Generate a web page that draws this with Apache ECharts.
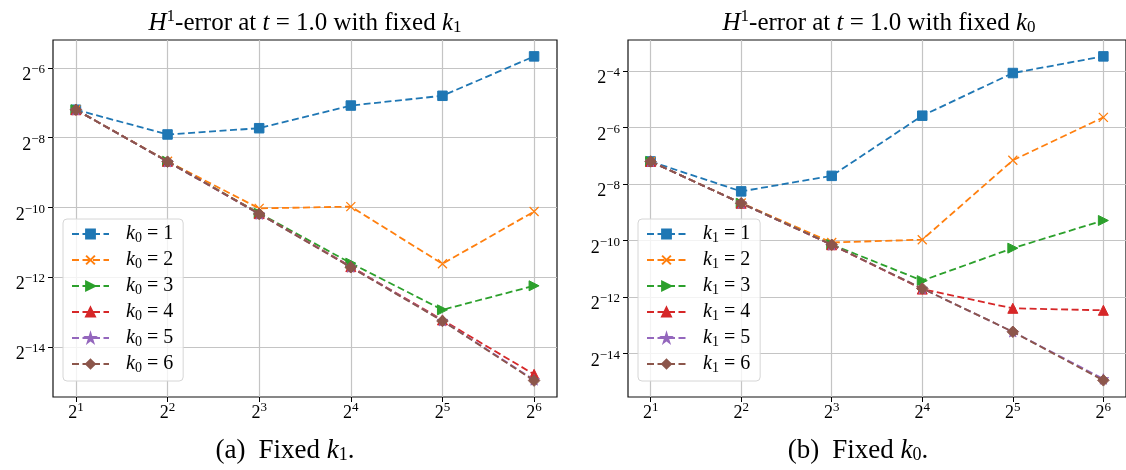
<!DOCTYPE html>
<html>
<head>
<meta charset="utf-8">
<title>H1-error convergence</title>
<script src="https://cdn.jsdelivr.net/npm/echarts@6/dist/echarts.min.js"></script>
<style>
  html, body { margin: 0; padding: 0; background: #fff; }
  #chart { width: 1126px; height: 470px; }
</style>
</head>
<body>
<div id="chart"></div>
<script>
// Refinement levels: n = 2^level
const levels = [1, 2, 3, 4, 5, 6];

// log2 of the H1-error, panel (a): fixed k1, varying k0
const errA_k0_1 = [-7.20, -7.91, -7.73, -7.08, -6.80, -5.67];
const errA_k0_2 = [-7.20, -8.68, -10.03, -9.98, -11.62, -10.12];
const errA_k0_3 = [-7.20, -8.68, -10.17, -11.60, -12.94, -12.25];
const errA_k0_4 = [-7.20, -8.68, -10.18, -11.70, -13.23, -14.79];
const errA_k0_5 = [-7.20, -8.69, -10.19, -11.71, -13.25, -14.95];
const errA_k0_6 = [-7.20, -8.69, -10.19, -11.72, -13.26, -14.97];

// log2 of the H1-error, panel (b): fixed k0, varying k1
const errB_k1_1 = [-7.20, -8.26, -7.71, -5.58, -4.07, -3.48];
const errB_k1_2 = [-7.20, -8.67, -10.07, -9.97, -7.16, -5.64];
const errB_k1_3 = [-7.20, -8.68, -10.14, -11.42, -10.27, -9.29];
const errB_k1_4 = [-7.20, -8.68, -10.15, -11.72, -12.40, -12.47];
const errB_k1_5 = [-7.20, -8.68, -10.15, -11.70, -13.23, -14.90];
const errB_k1_6 = [-7.20, -8.68, -10.15, -11.70, -13.23, -14.95];

// Tick positions (exponents of 2)
const xTicks = [1, 2, 3, 4, 5, 6];
const yTicksA = [-14, -12, -10, -8, -6];
const yTicksB = [-14, -12, -10, -8, -6, -4];

const seriesA = [errA_k0_1, errA_k0_2, errA_k0_3, errA_k0_4, errA_k0_5, errA_k0_6];
const seriesB = [errB_k1_1, errB_k1_2, errB_k1_3, errB_k1_4, errB_k1_5, errB_k1_6];
const kValues = ['1', '2', '3', '4', '5', '6'];

const SERIF = 'Liberation Serif';
const colors = ['#1f77b4', '#ff7f0e', '#2ca02c', '#d62728', '#9467bd', '#8c564b'];
const X_PATH = 'path://M0,0L10,10M10,0L0,10';
const STAR_PATH = 'path://M50,0L61.2,34.5L97.6,34.5L68.2,55.9L79.4,90.5L50,69.1L20.6,90.5L31.8,55.9L2.4,34.5L38.8,34.5Z';
const markers = ['rect', X_PATH, 'triangle', 'triangle', STAR_PATH, 'diamond'];
const markerRotate = [0, 0, -90, 0, 0, 0];
const markerSize = [9.5, 9, 10, 10, 10.5, 11.5];

// power-of-two tick label: 2^e
const powRich = {
  b: { fontFamily: SERIF, fontSize: 18, lineHeight: 21, verticalAlign: 'bottom', color: '#000' },
  s: { fontFamily: SERIF, fontSize: 13, lineHeight: 6, verticalAlign: 'top', color: '#000' }
};
function powLabel(v) {
  const e = v < 0 ? '\u2212' + Math.abs(v) : String(v);
  return '{b|2}{s|' + e + '}';
}

const gridLine = { show: true, lineStyle: { color: '#c4c4c4', width: 1.2 } };
const tickStyle = { show: true, inside: false, length: 5, lineStyle: { color: '#000', width: 1 } };

function xAxis(gridIndex) {
  return {
    type: 'value', gridIndex, min: 0.75, max: 6.25,
    axisLine: { show: false },
    axisTick: Object.assign({ customValues: xTicks }, tickStyle),
    axisLabel: { customValues: xTicks, formatter: powLabel, rich: powRich, margin: 4 },
    splitLine: gridLine
  };
}
function yAxis(gridIndex, min, max, ticks) {
  return {
    type: 'value', gridIndex, min, max,
    axisLine: { show: false },
    axisTick: Object.assign({ customValues: ticks }, tickStyle),
    axisLabel: { customValues: ticks, formatter: powLabel, rich: powRich, margin: 8, padding: [12, 0, 0, 0] },
    splitLine: gridLine
  };
}

function makeSeries(name, values, i, gridIndex) {
  return {
    type: 'line', name, xAxisIndex: gridIndex, yAxisIndex: gridIndex,
    data: levels.map((lv, j) => [lv, values[j]]),
    symbol: markers[i], symbolSize: markerSize[i], symbolRotate: markerRotate[i],
    lineStyle: { color: colors[i], width: 1.8, type: [7, 3.5] },
    itemStyle: { color: colors[i], borderColor: colors[i], borderWidth: i === 1 ? 1.3 : 1 },
    emphasis: { disabled: true },
    z: 2 + i
  };
}

const namesA = kValues.map(k => 'k0=' + k);
const namesB = kValues.map(k => 'k1=' + k);

const legendRich = {
  k: { fontFamily: SERIF, fontStyle: 'italic', fontSize: 20, lineHeight: 22, color: '#000', padding: [0, 0, 0, 12] },
  sub: { fontFamily: SERIF, fontSize: 14, lineHeight: 17, verticalAlign: 'bottom', color: '#000' },
  t: { fontFamily: SERIF, fontSize: 20, lineHeight: 22, color: '#000' }
};
function legend(names, sub, left, itemWidth) {
  return {
    data: names, orient: 'vertical', left, top: 219,
    itemWidth, itemHeight: 11, itemGap: 5,
    padding: [5, 10, 6, 8],
    backgroundColor: 'rgba(255,255,255,0.8)', borderColor: '#d6d6d6', borderWidth: 1, borderRadius: 4,
    selectedMode: false,
    formatter: name => '{k|k}{sub|' + sub + '}{t| = ' + name.split('=')[1] + '}',
    textStyle: { rich: legendRich }
  };
}

const titleRich = {
  r: { fontFamily: SERIF, fontSize: 25, lineHeight: 28, verticalAlign: 'bottom', fill: '#000' },
  i: { fontFamily: SERIF, fontStyle: 'italic', fontSize: 25, lineHeight: 28, verticalAlign: 'bottom', fill: '#000' },
  sup: { fontFamily: SERIF, fontSize: 17, lineHeight: 12, verticalAlign: 'top', fill: '#000' },
  sub: { fontFamily: SERIF, fontSize: 17, lineHeight: 17, verticalAlign: 'bottom', fill: '#000' }
};
function titleText(x, sub) {
  return {
    type: 'text', x, y: 22, silent: true,
    style: {
      text: '{i|H}{sup|1}{r|-error at }{i|t}{r| = 1.0 with fixed }{i|k}{sub|' + sub + '}',
      rich: titleRich, align: 'center', verticalAlign: 'middle'
    }
  };
}
const capRich = {
  r: { fontFamily: SERIF, fontSize: 27, lineHeight: 30, verticalAlign: 'bottom', fill: '#000' },
  g: { fontFamily: SERIF, fontSize: 27, lineHeight: 30, verticalAlign: 'bottom', fill: '#000', padding: [0, 0, 0, 13] },
  i: { fontFamily: SERIF, fontStyle: 'italic', fontSize: 27, lineHeight: 30, verticalAlign: 'bottom', fill: '#000' },
  sub: { fontFamily: SERIF, fontSize: 18, lineHeight: 18, verticalAlign: 'bottom', fill: '#000' }
};
function caption(x, tag, sub) {
  return {
    type: 'text', x, y: 449, silent: true,
    style: {
      text: '{r|(' + tag + ')}{g|Fixed }{i|k}{sub|' + sub + '}{r|.}',
      rich: capRich, align: 'center', verticalAlign: 'middle'
    }
  };
}

const chart = echarts.init(document.getElementById('chart'), null, { renderer: 'canvas' });
chart.setOption({
  animation: false,
  backgroundColor: '#fff',
  grid: [
    { left: 53, top: 40, width: 504, height: 357, show: true, borderColor: '#111', borderWidth: 1.2, backgroundColor: 'transparent' },
    { left: 628, top: 40, width: 502, height: 357, show: true, borderColor: '#111', borderWidth: 1.2, backgroundColor: 'transparent' }
  ],
  xAxis: [xAxis(0), xAxis(1)],
  yAxis: [yAxis(0, -15.44, -5.20, yTicksA), yAxis(1, -15.54, -2.90, yTicksB)],
  legend: [legend(namesA, '0', 63, 37), legend(namesB, '1', 638, 39)],
  series: seriesA.map((v, i) => makeSeries(namesA[i], v, i, 0))
    .concat(seriesB.map((v, i) => makeSeries(namesB[i], v, i, 1))),
  graphic: [
    titleText(305, '1'), titleText(879, '0'),
    caption(285, 'a', '1'), caption(858, 'b', '0')
  ]
});
</script>
</body>
</html>
